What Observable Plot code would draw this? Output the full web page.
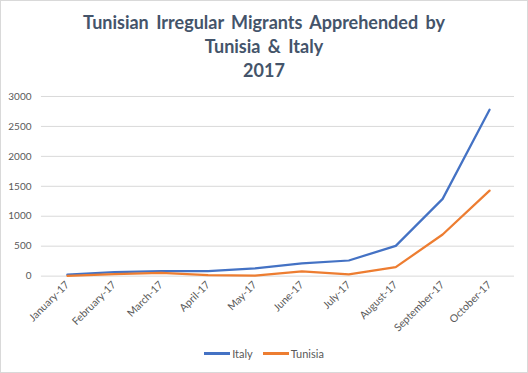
<!DOCTYPE html>
<html>
<head>
<meta charset="utf-8">
<script src="https://cdn.jsdelivr.net/npm/d3@7"></script>
<script src="https://cdn.jsdelivr.net/npm/@observablehq/plot@0.6"></script>
<style>
  html, body { margin: 0; padding: 0; background: #fff; }
  #chart { position: relative; width: 526px; height: 371px; border: 1px solid #d9d9d9; background: #fff; font-family: Lato, "Open Sans", sans-serif; overflow: hidden; }
  #title { position: absolute; left: 0; top: 9px; width: 526px; text-align: center; font-weight: bold; font-size: 18px; line-height: 24px; color: #44546a; word-spacing: 3px; letter-spacing: 0px; }
  #plot { position: absolute; left: -1px; top: 84px; }
  #legend { position: absolute; left: 0; top: 346px; width: 526px; display: flex; justify-content: center; gap: 10px; font-size: 11px; color: #595959; }
  .item { display: flex; align-items: center; gap: 2px; }
  .sw { width: 26px; height: 3px; display: inline-block; }
</style>
</head>
<body>
<div id="chart">
  <div id="title">Tunisian Irregular Migrants Apprehended by<br>Tunisia &amp; Italy<br>2017</div>
  <div id="plot"></div>
  <div id="legend"></div>
</div>
<script>
const months = ["January-17","February-17","March-17","April-17","May-17","June-17","July-17","August-17","September-17","October-17"];
const italy = [25, 65, 85, 85, 130, 212, 261, 505, 1290, 2780];
const tunisia = [5, 35, 55, 15, 10, 78, 28, 150, 695, 1428];
const seriesNames = ["Italy", "Tunisia"];
const seriesColors = ["#4472c4", "#ed7d31"];
const yTicks = [0, 500, 1000, 1500, 2000, 2500, 3000];

const data = [];
months.forEach((m, i) => {
  data.push({month: m, value: italy[i], series: "Italy"});
  data.push({month: m, value: tunisia[i], series: "Tunisia"});
});

const chart = Plot.plot({
  width: 528,
  height: 256,
  marginTop: 11,
  marginBottom: 65,
  marginLeft: 41,
  marginRight: 13,
  style: {fontFamily: "Lato, 'Open Sans', sans-serif", fontSize: "10px", color: "#595959", background: "transparent"},
  x: {type: "point", domain: months, padding: 0.5, label: null},
  y: {domain: [0, 3000], label: null},
  color: {domain: seriesNames, range: seriesColors},
  marks: [
    Plot.gridY(yTicks, {stroke: "#d9d9d9", strokeOpacity: 1, strokeWidth: 1}),
    Plot.axisY(yTicks, {tickSize: 0, tickPadding: 10, fontSize: 10, fill: "#595959", label: null, tickFormat: d3.format("d")}),
    Plot.axisX({tickSize: 0, tickPadding: 7, tickRotate: -45, fontSize: 10.5, fill: "#595959", label: null}),
    Plot.line(data, {x: "month", y: "value", z: "series", stroke: "series", strokeWidth: 2.25, strokeLinejoin: "round", strokeLinecap: "round"})
  ]
});
document.getElementById("plot").appendChild(chart);

const legend = document.getElementById("legend");
seriesNames.forEach((name, i) => {
  const item = document.createElement("div");
  item.className = "item";
  const sw = document.createElement("span");
  sw.className = "sw";
  sw.style.background = seriesColors[i];
  const lab = document.createElement("span");
  lab.textContent = name;
  item.appendChild(sw);
  item.appendChild(lab);
  legend.appendChild(item);
});
</script>
</body>
</html>
